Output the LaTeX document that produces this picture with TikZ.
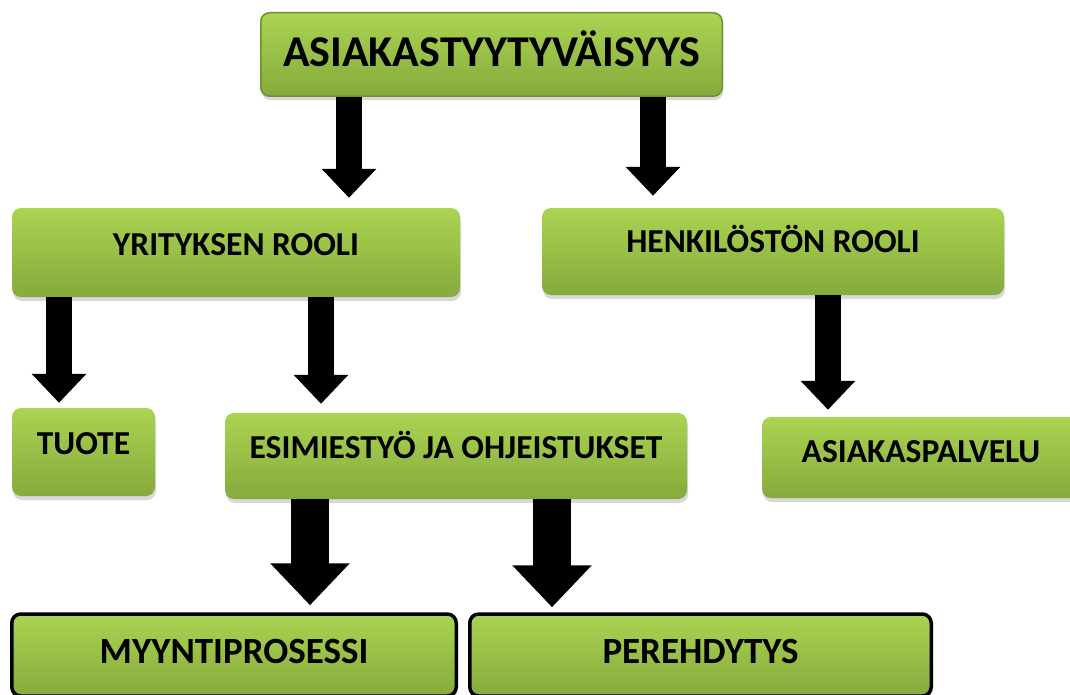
\documentclass[tikz,border=0pt]{standalone}
\usepackage{fontspec}
\setmainfont{Carlito}
\usetikzlibrary{arrows.meta, calc, shadows}

\definecolor{boxtop}{HTML}{AAD452}
\definecolor{boxbot}{HTML}{86AA3C}
\definecolor{topline}{HTML}{6F902C}

\tikzset{
    box/.style={rectangle, rounded corners=9pt, inner sep=0pt,
        top color=boxtop, bottom color=boxbot,
        drop shadow={shadow xshift=1pt, shadow yshift=-4pt, opacity=0.3},
        font=\fontsize{33.5}{40}\selectfont\bfseries},
    mainbox/.style={box, draw=topline, line width=1.5pt,
        font=\fontsize{44}{52}\selectfont\bfseries},
    endbox/.style={box, draw=black, line width=3.5pt,
        font=\fontsize{37}{44}\selectfont\bfseries},
    thinarrow/.style={line width=26pt, -{Triangle[width=53pt, length=29pt]}},
    fatarrow/.style={line width=38pt, -{Triangle[width=77pt, length=42pt]}},
}

\begin{document}
\begin{tikzpicture}[x=1pt, y=-1pt]
    \useasboundingbox (0,0) rectangle (1070,695);
    \clip (0,0) rectangle (1070,695);
    \fill[white] (0,0) rectangle (1070,695);

    \node[mainbox, minimum width=461.5pt, text height=53.5pt, text depth=30pt] (top) at (491.5,54.5) {ASIAKASTYYTYVÄISYYS};
    \node[box, minimum width=448pt, text height=47.8pt, text depth=41.2pt] (yritys) at (236,252.5) {YRITYKSEN ROOLI};
    \node[box, minimum width=462pt, text height=44.8pt, text depth=42.2pt] (henkilosto) at (773,251.5) {HENKILÖSTÖN ROOLI};
    \node[box, minimum width=143pt, text height=46.8pt, text depth=41.2pt] (tuote) at (83.5,452) {TUOTE};
    \node[box, minimum width=462pt, text height=45.8pt, text depth=40.2pt] (esimies) at (456,456) {ESIMIESTYÖ JA OHJEISTUKSET};
    \node[box, minimum width=318pt, text height=45.8pt, text depth=35.2pt] (palvelu) at (921,457.5) {ASIAKASPALVELU};
    \node[endbox, minimum width=444.5pt, text height=49.9pt, text depth=32.1pt] (myynti) at (234,655) {MYYNTIPROSESSI};
    \node[endbox, minimum width=461.5pt, text height=49.9pt, text depth=32.1pt] (perehdytys) at (700.5,655) {PEREHDYTYS};

    \coordinate (a1) at (349,0);
    \coordinate (a2) at (653,0);
    \coordinate (a3) at (59,0);
    \coordinate (a4) at (321,0);
    \coordinate (a5) at (828,0);
    \coordinate (a6) at (310,0);
    \coordinate (a7) at (552,0);

    \draw[thinarrow] (top.south -| a1) -- ($(yritys.north -| a1)+(0,-10)$);
    \draw[thinarrow] (top.south -| a2) -- ($(henkilosto.north -| a2)+(0,-12)$);
    \draw[thinarrow] (yritys.south -| a3) -- ($(tuote.north -| a3)+(0,-5)$);
    \draw[thinarrow] (yritys.south -| a4) -- ($(esimies.north -| a4)+(0,-9)$);
    \draw[thinarrow] (henkilosto.south -| a5) -- ($(palvelu.north -| a5)+(0,-7)$);
    \draw[fatarrow] (esimies.south -| a6) -- ($(myynti.north -| a6)+(0,-7)$);
    \draw[fatarrow] (esimies.south -| a7) -- ($(perehdytys.north -| a7)+(0,-5)$);
\end{tikzpicture}
\end{document}
